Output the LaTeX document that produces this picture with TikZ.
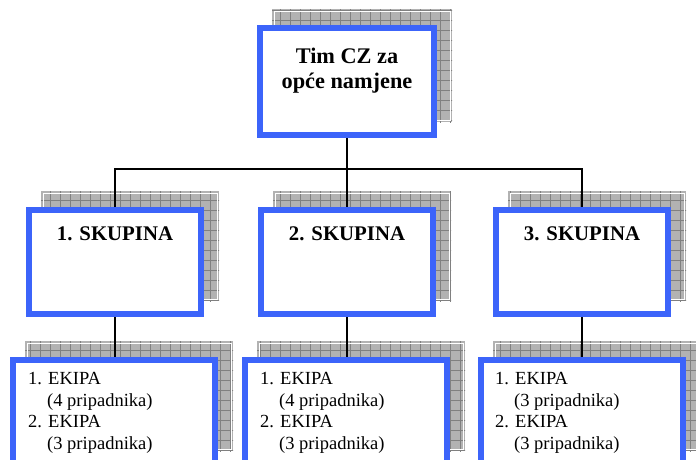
\documentclass[tikz,border=0pt]{standalone}
\usepackage{fontspec}
\setmainfont{Liberation Serif}
\usetikzlibrary{backgrounds,calc}
\definecolor{boxblue}{RGB}{60,100,250}
\newcommand\shadowof[1]{%
  \begin{scope}
    \clip ($(#1.south west)+(15,-16)$) rectangle ($(#1.north east)+(15,-16)$);
    \fill[black!30] ($(#1.south west)+(15,-16)$) rectangle ($(#1.north east)+(15,-16)$);
    \foreach \gx in {0,10,...,700} {\draw[black!50, line width=0.6pt] (\gx,0) -- (\gx,460);}
    \foreach \gy in {0,10,...,460} {\draw[black!50, line width=0.6pt] (0,\gy) -- (700,\gy);}
  \end{scope}
  \draw[white, line width=0.8pt] ($(#1.south west)+(17,-18)$) rectangle ($(#1.north east)+(13,-14)$);
}
\begin{document}
\begin{tikzpicture}[x=1pt,y=-1pt,
  box/.style={draw=boxblue, line width=6pt, fill=white, inner sep=0pt},
  toplevel/.style={box, minimum width=174pt, minimum height=107pt},
  grp/.style={box, minimum width=172pt, minimum height=104pt},
  team/.style={box, minimum width=202pt, minimum height=104pt},
  conn/.style={draw=black, line width=1.8pt},
  toptext/.style={font=\bfseries\fontsize{22.3}{25}\selectfont, align=center, inner sep=0pt},
  grptext/.style={font=\bfseries\fontsize{20.8}{24}\selectfont, inner sep=0pt, anchor=base},
  teamtext/.style={font=\fontsize{18.5}{21.5}\selectfont, align=left, inner sep=0pt, anchor=north west}]
\useasboundingbox (0,0) rectangle (696,459);
\clip (0,0) rectangle (696,459);

\node[toplevel] (top) at (347,81.5) {};
\node[grp] (s1) at (115,262) {};
\node[grp] (s2) at (347,262) {};
\node[grp] (s3) at (582,262) {};
\node[team] (e1) at (114,412) {};
\node[team] (e2) at (346,412) {};
\node[team] (e3) at (582,412) {};

\begin{scope}[on background layer]
  \fill[white] (0,0) rectangle (696,459);
  \shadowof{top}
  \shadowof{s1}
  \shadowof{s2}
  \shadowof{s3}
  \shadowof{e1}
  \shadowof{e2}
  \shadowof{e3}
\end{scope}

\node[toptext, anchor=north] (toptxt) at (347,47.5) {Tim CZ za\\opće namjene};
\node[grptext] (s1t) at (115,240) {1. SKUPINA};
\node[grptext] (s2t) at (347,240) {2. SKUPINA};
\node[grptext] (s3t) at (582,240) {3. SKUPINA};
\node[teamtext] (e1t) at (28,372.5) {1. EKIPA\\\hspace*{19pt}(4 pripadnika)\\2. EKIPA\\\hspace*{19pt}(3 pripadnika)};
\node[teamtext] (e2t) at (260,372.5) {1. EKIPA\\\hspace*{19pt}(4 pripadnika)\\2. EKIPA\\\hspace*{19pt}(3 pripadnika)};
\node[teamtext] (e3t) at (495,372.5) {1. EKIPA\\\hspace*{19pt}(3 pripadnika)\\2. EKIPA\\\hspace*{19pt}(3 pripadnika)};

\coordinate (bus) at (347,169);
\draw[conn] (top.south) -- (s2.north);
\draw[conn] (s1.north) |- (bus) -| (s3.north);
\draw[conn] (s1.south) -- (s1.south |- e1.north);
\draw[conn] (s2.south) -- (s2.south |- e2.north);
\draw[conn] (s3.south) -- (s3.south |- e3.north);
\end{tikzpicture}
\end{document}
